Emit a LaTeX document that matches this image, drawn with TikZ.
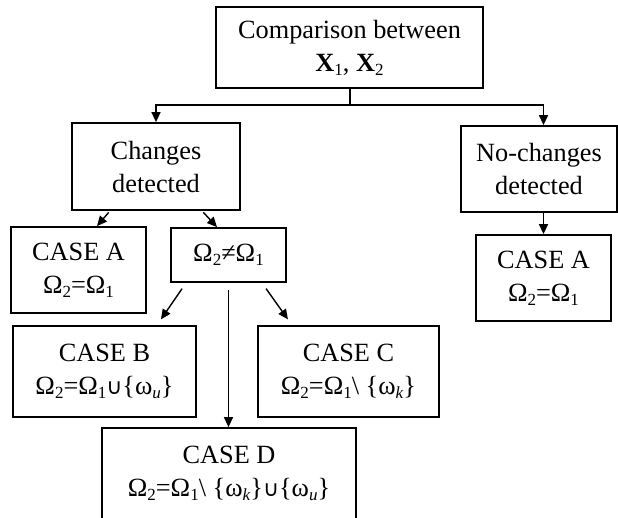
\documentclass[tikz,border=0pt]{standalone}
\usepackage{fontspec}
\setmainfont{Liberation Serif}
\newfontfamily\symfam{DejaVu Sans}
\usetikzlibrary{arrows.meta}
\newcommand\lowsub[1]{\raisebox{-0.35ex}{\fontsize{17}{17}\selectfont #1}}
\newcommand\cupsym{{\fontsize{22}{22}\symfam ∪}}
\begin{document}
\begin{tikzpicture}[x=1pt,y=-1pt,
  box/.style={draw, line width=1.8pt, inner sep=0pt, align=center,
    font=\fontsize{26.3}{33}\selectfont},
  arr/.style={line width=1.4pt, -{Triangle[length=10pt,width=9pt]}}]
\useasboundingbox (0,0) rectangle (618,517);
\node[box, minimum width=267, minimum height=81] (top) at (349.5,47.5)
  {Comparison between\\\textbf{X}\lowsub{1}, \textbf{X}\lowsub{2}};
\node[box, minimum width=168, minimum height=87] (chg) at (156,166.5)
  {Changes\\detected};
\node[box, minimum width=156, minimum height=86] (nc) at (539,169)
  {No-changes\\detected};
\node[box, minimum width=135, minimum height=86] (caL) at (78.5,270)
  {CASE A\\Ω\lowsub{2}=Ω\lowsub{1}};
\node[box, minimum width=115, minimum height=54] (neq) at (228.5,255)
  {Ω\lowsub{2}≠Ω\lowsub{1}};
\node[box, minimum width=135, minimum height=86] (caR) at (543.5,278)
  {CASE A\\Ω\lowsub{2}=Ω\lowsub{1}};
\node[box, minimum width=183, minimum height=91] (cb) at (104.5,371.5)
  {CASE B\\Ω\lowsub{2}=Ω\lowsub{1}\cupsym\{ω\lowsub{\textit{u}}\}};
\node[box, minimum width=181, minimum height=91] (cc) at (348.5,371.5)
  {CASE C\\Ω\lowsub{2}=Ω\lowsub{1}\textbackslash\ \{ω\lowsub{\textit{k}}\}};
\node[box, minimum width=254, minimum height=91] (cd) at (229,473.5)
  {CASE D\\Ω\lowsub{2}=Ω\lowsub{1}\textbackslash\ \{ω\lowsub{\textit{k}}\}\cupsym\{ω\lowsub{\textit{u}}\}};
\coordinate (j) at (350,105);
\draw[line width=1.4pt] (top.south -| j) -- (j);
\draw[arr] (j) -| (chg.north);
\draw[arr] (j) -| (nc.north -| caR.north);
\draw[arr] (nc.south -| caR.north) -- (caR.north);
\draw[arr, shorten <=2pt] ([xshift=-46pt]chg.south) -- ([xshift=18.5pt]caL.north);
\draw[arr, shorten <=2pt] ([xshift=46pt]chg.south) -- ([xshift=-11.5pt]neq.north);
\draw[arr, shorten <=7pt, shorten >=7pt] ([xshift=-42.5pt]neq.south) -- ([xshift=52.5pt]cb.north);
\draw[arr, shorten <=7pt, shorten >=7pt] ([xshift=33.5pt]neq.south) -- ([xshift=-56.5pt]cc.north);
\draw[arr, shorten <=7pt] (neq.south) -- (cd.north -| neq.south);
\end{tikzpicture}
\end{document}
